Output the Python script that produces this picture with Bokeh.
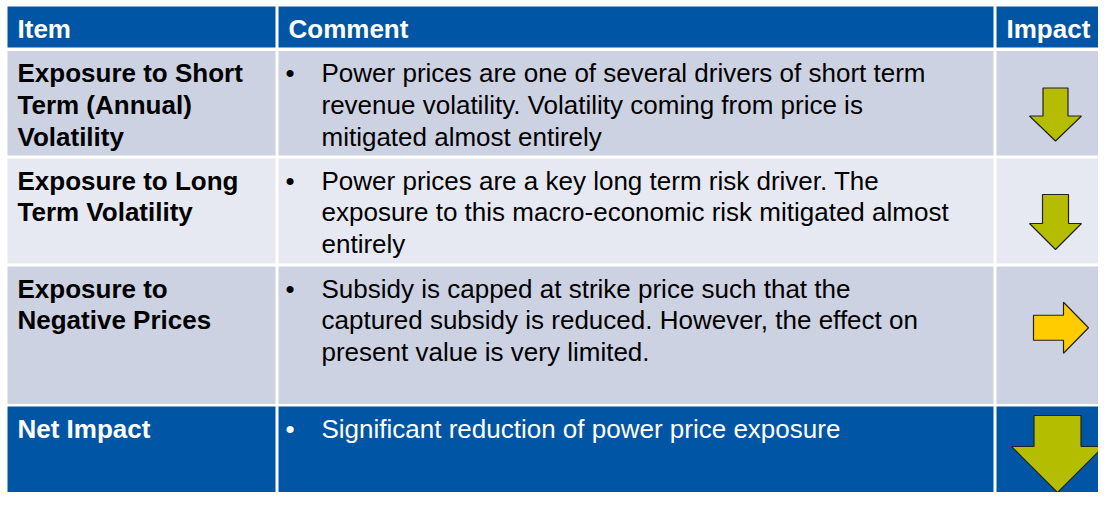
from bokeh.plotting import figure
from bokeh.models import Range1d
from bokeh.core.properties import value
from bokeh.embed import file_html
from bokeh.resources import INLINE

# ---------------- data ----------------
headers = ["Item", "Comment", "Impact"]
item_lines = [
    ["Exposure to Short", "Term (Annual)", "Volatility"],
    ["Exposure to Long", "Term Volatility"],
    ["Exposure to", "Negative Prices"],
    ["Net Impact"],
]
comment_lines = [
    ["Power prices are one of several drivers of short term",
     "revenue volatility. Volatility coming from price is",
     "mitigated almost entirely"],
    ["Power prices are a key long term risk driver.  The",
     "exposure to this macro-economic risk mitigated almost",
     "entirely"],
    ["Subsidy is capped at strike price such that the",
     "captured subsidy is reduced.  However, the effect on",
     "present value is very limited."],
    ["Significant reduction of power price exposure"],
]
impacts = ["down", "down", "right", "down"]

# ---------------- layout / style ----------------
BLUE = "#0056A5"
row_fills = ["#CDD2E2", "#E7E9F2", "#CDD2E2", BLUE]
row_text = ["black", "black", "black", "white"]
arrow_fill = {"down": "#B5BD00", "right": "#FFCC00"}

col_edges = [(7, 275), (278, 993), (996, 1116)]
header_edge = (6, 47)
row_edges = [(50.5, 155), (158, 263), (266, 403.5), (406, 512)]

FONT = "Liberation Sans"
FS = "26px"
LINE_H = 31.6
FIRST = 22.3
HEAD_BASE = 22.3

# arrow layout per row: (width, height, shaft width, head length, anchor offset)
arrow_layout = [
    dict(w=52, h=53, sw=25, hl=25, top=37, dx=0),
    dict(w=52, h=55, sw=26, hl=26, top=36, dx=0),
    dict(w=55, h=51, sw=25, hl=25, cy=-7.5, dx=5.5),
    dict(w=92, h=77, sw=47, hl=46, top=9, dx=2),
]

W, H = 1098, 492
p = figure(width=W, height=H, output_backend="svg", toolbar_location=None,
           x_range=Range1d(0, W), y_range=Range1d(H, 0),
           x_axis_type=None, y_axis_type=None, min_border=0,
           background_fill_color="white", border_fill_color="white")
p.outline_line_color = None
p.grid.visible = False

# cells
L, R, T, B, C = [], [], [], [], []
for (cl, cr) in col_edges:
    L.append(cl); R.append(cr); T.append(header_edge[0]); B.append(header_edge[1]); C.append(BLUE)
for ri, (rt, rb) in enumerate(row_edges):
    for (cl, cr) in col_edges:
        L.append(cl); R.append(cr); T.append(rt); B.append(rb); C.append(row_fills[ri])
p.quad(left=L, right=R, top=T, bottom=B, fill_color=C, line_color=None)

# header text
p.text(x=[c[0] + 10 for c in col_edges], y=[header_edge[0] + HEAD_BASE] * 3, text=headers,
       text_font=value(FONT), text_font_size=FS, text_font_style="bold",
       text_color="white", text_baseline="alphabetic")

# body text
ix, iy, it, ic = [], [], [], []
cx, cy, ct, cc = [], [], [], []
bx, by, bc = [], [], []
for ri, (rt, rb) in enumerate(row_edges):
    for li, line in enumerate(item_lines[ri]):
        ix.append(col_edges[0][0] + 10); iy.append(rt + FIRST + li * LINE_H)
        it.append(line); ic.append(row_text[ri])
    for li, line in enumerate(comment_lines[ri]):
        cx.append(col_edges[1][0] + 43); cy.append(rt + FIRST + li * LINE_H)
        ct.append(line); cc.append(row_text[ri])
    bx.append(col_edges[1][0] + 7); by.append(rt + FIRST); bc.append(row_text[ri])

p.text(x=ix, y=iy, text=it, text_color=ic, text_font=value(FONT), text_font_size=FS,
       text_font_style="bold", text_baseline="alphabetic")
p.text(x=cx, y=cy, text=ct, text_color=cc, text_font=value(FONT), text_font_size=FS,
       text_baseline="alphabetic")
p.text(x=bx, y=by, text=["\u2022"] * len(bx), text_color=bc, text_font=value(FONT),
       text_font_size=FS, text_baseline="alphabetic")

# arrows
xs_all, ys_all, fills = [], [], []
col3_c = (col_edges[2][0] + 1114) / 2.0
for ri, d in enumerate(impacts):
    a = arrow_layout[ri]
    rt, rb = row_edges[ri]
    cxx = col3_c + a["dx"]
    if d == "down":
        top = rt + a["top"]
        hw, sw = a["w"] / 2.0, a["sw"] / 2.0
        neck = top + a["h"] - a["hl"]
        tip = top + a["h"]
        xs = [cxx - sw, cxx + sw, cxx + sw, cxx + hw, cxx, cxx - hw, cxx - sw]
        ys = [top, top, neck, neck, tip, neck, neck]
    else:
        cyy = (rt + rb) / 2.0 + a["cy"]
        left = cxx - a["w"] / 2.0
        neck = left + a["w"] - a["hl"]
        tip = left + a["w"]
        hh, sh = a["h"] / 2.0, a["sw"] / 2.0
        xs = [left, neck, neck, tip, neck, neck, left]
        ys = [cyy - sh, cyy - sh, cyy - hh, cyy, cyy + hh, cyy + sh, cyy + sh]
    xs_all.append(xs); ys_all.append(ys); fills.append(arrow_fill[d])
p.patches(xs=xs_all, ys=ys_all, fill_color=fills, line_color="#222222", line_width=1.2)

open("out.html", "w").write(file_html(p, INLINE))
